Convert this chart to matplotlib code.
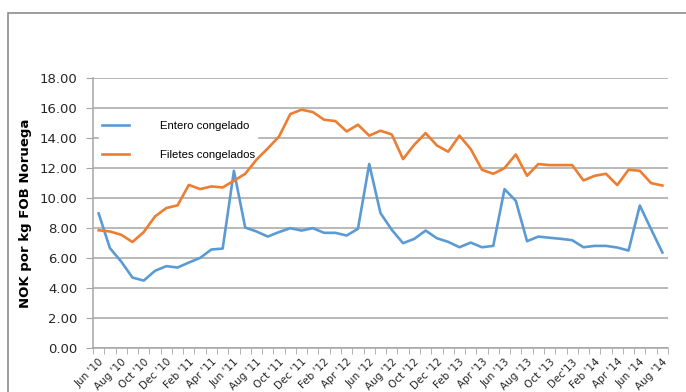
import numpy as np
import matplotlib.pyplot as plt
from matplotlib.patches import Rectangle

# monthly prices Jun 2010 - Aug 2014 (NOK/kg FOB Norway)
months = ["Jun '10", "Jul '10", "Aug '10", "Sep '10", "Oct '10", "Nov '10", "Dec '10",
          "Jan '11", "Feb '11", "Mar '11", "Apr '11", "May '11", "Jun '11", "Jul '11",
          "Aug '11", "Sep '11", "Oct '11", "Nov '11", "Dec '11", "Jan '12", "Feb '12",
          "Mar '12", "Apr '12", "May '12", "Jun '12", "Jul '12", "Aug '12", "Sep '12",
          "Oct '12", "Nov '12", "Dec '12", "Jan '13", "Feb '13", "Mar '13", "Apr '13",
          "May '13", "Jun '13", "Jul '13", "Aug '13", "Sep '13", "Oct '13", "Nov '13",
          "Dec'13", "Jan '14", "Feb '14", "Mar '14", "Apr '14", "May '14", "Jun '14",
          "Jul '14", "Aug '14"]

entero = [8.98, 6.67, 5.78, 4.71, 4.51, 5.16, 5.47, 5.38, 5.71, 6.02,
          6.58, 6.64, 11.82, 8.04, 7.78, 7.44, 7.74, 8.00, 7.84, 8.00,
          7.69, 7.69, 7.51, 7.96, 12.27, 9.00, 7.89, 7.00, 7.29, 7.84,
          7.33, 7.09, 6.73, 7.04, 6.73, 6.82, 10.60, 9.82, 7.13, 7.44,
          7.36, 7.29, 7.20, 6.73, 6.82, 6.82, 6.71, 6.51, 9.51, 7.93, 6.38]

filetes = [7.86, 7.78, 7.56, 7.08, 7.74, 8.78, 9.34, 9.52, 10.88, 10.60,
           10.78, 10.71, 11.16, 11.62, 12.56, 13.31, 14.10, 15.60, 15.89, 15.73,
           15.22, 15.13, 14.44, 14.89, 14.16, 14.49, 14.24, 12.60, 13.56, 14.33,
           13.51, 13.09, 14.16, 13.27, 11.89, 11.62, 12.00, 12.91, 11.49, 12.27,
           12.20, 12.20, 12.20, 11.18, 11.49, 11.62, 10.87, 11.89, 11.82, 11.00, 10.84]

x = np.arange(len(months))
grid_c = '#a6a6a6'

fig = plt.figure(figsize=(6.86, 3.92), dpi=100)
ax = fig.add_axes([93/686, 1 - 348.3/392, 575/686, 270.3/392])

# outer chart frame
fig.patches.append(Rectangle((8/686, -0.2), 1.2, 1.2 - 13/392,
                             transform=fig.transFigure, fill=False,
                             edgecolor='#8c8c8c', linewidth=1.2))

ax.plot(x, entero, color='#5b9bd5', linewidth=1.9, label='Entero congelado', zorder=3)
ax.plot(x, filetes, color='#ed7d31', linewidth=1.9, label='Filetes congelados', zorder=3)

ax.set_xlim(-0.5, len(months) - 0.5)
ax.set_ylim(0, 18)
ax.set_yticks(np.arange(0, 18.1, 2))
ax.set_yticklabels([f'{v:.2f}' for v in np.arange(0, 18.1, 2)], fontsize=9.5, color='#262626')
ax.yaxis.grid(True, color=grid_c, linewidth=1.1)
ax.set_axisbelow(True)

ax.set_xticks(x[::2])
ax.set_xticklabels(months[::2], rotation=45, ha='right', rotation_mode='anchor',
                   fontsize=7.5, color='#262626')
ax.set_xticks(np.arange(-0.5, len(months), 1), minor=True)
ax.tick_params(axis='x', which='major', length=0, pad=6)
ax.tick_params(axis='x', which='minor', length=4, color=grid_c, direction='out')
ax.tick_params(axis='y', length=5, color=grid_c, pad=6)

for side in ['top', 'right']:
    ax.spines[side].set_visible(False)
for side in ['left', 'bottom']:
    ax.spines[side].set_color(grid_c)
    ax.spines[side].set_linewidth(1.1)

ax.set_ylabel('NOK por kg FOB Noruega', fontsize=9.5, fontweight='bold', labelpad=6)

leg = ax.legend(loc='upper left', bbox_to_anchor=(0.011, 0.851),
                prop={'family': 'Liberation Sans', 'size': 8.2},
                handlelength=2.4, handletextpad=2.7, labelspacing=1.75,
                frameon=True, framealpha=1, borderpad=0.2, borderaxespad=0)
leg.get_frame().set_edgecolor('white')
leg.get_frame().set_facecolor('white')
leg.get_frame().set_boxstyle('square', pad=0)
leg.set_zorder(2.5)

fig.savefig('out.png', dpi=100)
